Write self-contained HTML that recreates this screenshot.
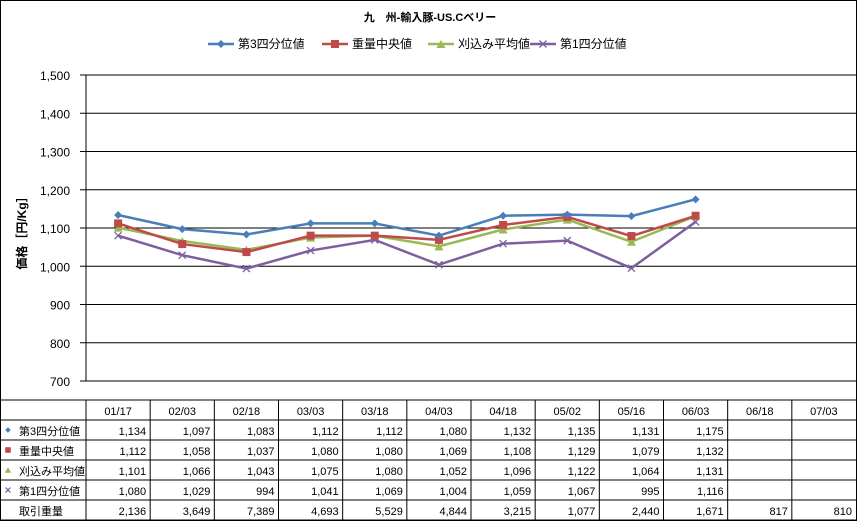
<!DOCTYPE html>
<html><head><meta charset="utf-8"><style>
body{margin:0;background:#fff;}
svg{display:block;font-family:"Liberation Sans","Noto Sans CJK JP",sans-serif;}
</style></head><body>
<svg id="c" width="857" height="521" viewBox="0 0 857 521">
<rect x="0.5" y="0.5" width="856" height="520" fill="#fff" stroke="#000"/>
<text x="430" y="21" text-anchor="middle" font-size="11" font-weight="bold">九　州-輸入豚-US.Cベリー</text>
<g id="legend"></g>
<text transform="translate(26,230) rotate(-90)" text-anchor="middle" font-size="12" font-weight="bold">価格［円/Kg］</text>
<g id="grid"></g><g id="series"></g><g id="table"></g>
</svg>
<script>
const categories=["01/17","02/03","02/18","03/03","03/18","04/03","04/18","05/02","05/16","06/03","06/18","07/03"];
const seriesNames=["第3四分位値","重量中央値","刈込み平均値","第1四分位値"];
const q3=[1134,1097,1083,1112,1112,1080,1132,1135,1131,1175,null,null];
const median=[1112,1058,1037,1080,1080,1069,1108,1129,1079,1132,null,null];
const trimmed=[1101,1066,1043,1075,1080,1052,1096,1122,1064,1131,null,null];
const q1=[1080,1029,994,1041,1069,1004,1059,1067,995,1116,null,null];
const volume=[2136,3649,7389,4693,5529,4844,3215,1077,2440,1671,817,810];
const yTicks=[700,800,900,1000,1100,1200,1300,1400,1500];
const colors=["#4a7ebb","#be4b48","#98b954","#7d5fa0"];
const NS="http://www.w3.org/2000/svg";
const L=86,R=856,T=75,B=381,cw=(R-L)/categories.length;
const y=v=>B-(v-700)/800*(B-T);
const x=i=>L+cw*(i+0.5);
function el(tag,attrs,parent,txt){const e=document.createElementNS(NS,tag);for(const k in attrs)e.setAttribute(k,attrs[k]);if(txt!==undefined)e.textContent=txt;parent.appendChild(e);return e;}
const fmt=v=>v==null?"":v.toLocaleString("en-US");
const grid=document.getElementById('grid');
yTicks.forEach(t=>{
 const ln=el('line',{x1:80,x2:R,y1:y(t),y2:y(t),stroke:'#000','stroke-width':1},grid);
 
 
 const tx=el('text',{x:70,y:y(t)+5,'text-anchor':'end','font-size':12},grid,fmt(t));
 
 
});
const ax=el('line',{x1:L,x2:L,y1:T,y2:B,stroke:'#000'},grid);


function marker(k,cx,cy,g,s){
 const c=colors[k];s=s||1;
 if(k===0)return el('polygon',{points:`${cx},${cy-4*s} ${cx+4*s},${cy} ${cx},${cy+4*s} ${cx-4*s},${cy}`,fill:c},g);
 if(k===1)return el('rect',{x:cx-4*s,y:cy-4*s,width:8*s,height:8*s,fill:c},g);
 if(k===2)return el('polygon',{points:`${cx},${cy-4*s} ${cx+4.5*s},${cy+4*s} ${cx-4.5*s},${cy+4*s}`,fill:c},g);
 return el('path',{d:`M${cx-3.5*s},${cy-3.5*s}L${cx+3.5*s},${cy+3.5*s}M${cx-3.5*s},${cy+3.5*s}L${cx+3.5*s},${cy-3.5*s}`,stroke:c,'stroke-width':1.3},g);
}
const data=[q3,median,trimmed,q1];
const sg=document.getElementById('series');
data.slice().reverse().forEach((arr,ri)=>{
 const k=3-ri;
 const g=el('g',{},sg);
 
 
 const pts=arr.map((v,i)=>v==null?null:[x(i),y(v)]).filter(p=>p);
 const pl=el('polyline',{points:pts.map(p=>p.join(',')).join(' '),fill:'none',stroke:colors[k],'stroke-width':2.5},g);
 
 
 pts.forEach((p,i)=>{const m=marker(k,p[0],p[1],g);
  
  });
});
// legend
const lg=document.getElementById('legend');
const lx=[208,322,428,530];
seriesNames.forEach((n,k)=>{
 const g=el('g',{},lg);
 
 
 el('line',{x1:lx[k],x2:lx[k]+26,y1:44,y2:44,stroke:colors[k],'stroke-width':2.5},g);
 marker(k,lx[k]+13,44,g);
 el('text',{x:lx[k]+30,y:48,'font-size':12,fill:'#000'},g,n);
});
// table
const tb=document.getElementById('table');
const TT=400,rh=20;
function hl(yy,x1){el('line',{x1:x1,x2:R,y1:yy,y2:yy,stroke:'#000'},tb);}
hl(TT,0);
for(let r=1;r<=6;r++)hl(TT+r*rh,0);
el('line',{x1:L,x2:L,y1:TT,y2:520,stroke:'#000'},tb);
for(let i=1;i<categories.length;i++)el('line',{x1:L+cw*i,x2:L+cw*i,y1:TT,y2:520,stroke:'#000'},tb);
categories.forEach((c,i)=>{const t=el('text',{x:x(i),y:TT+15,'text-anchor':'middle','font-size':11},tb,c);
 
 });
const rows=[...data,volume];
const rowNames=[...seriesNames,"取引重量"];
rows.forEach((arr,r)=>{
 const yy=TT+rh*(r+1);
 if(r<4){const m=marker(r,8,yy+10,tb,0.7);}
 const t=el('text',{x:19,y:yy+15,'font-size':11},tb,rowNames[r]);
 
 
 arr.forEach((v,i)=>{const c=el('text',{x:L+cw*(i+1)-4,y:yy+15,'text-anchor':'end','font-size':11},tb,fmt(v));
  
  });
});
</script>
</body></html>
